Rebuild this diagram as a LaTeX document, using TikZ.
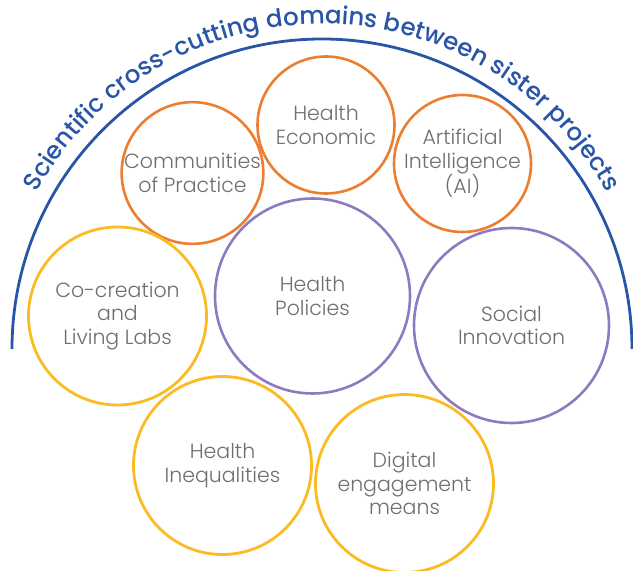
\documentclass[tikz,border=0pt]{standalone}
\usepackage{fontspec}
\setmainfont{Poppins Light}
\newfontfamily\titlefont{Poppins Medium}
\usetikzlibrary{decorations.text}
\definecolor{corange}{HTML}{ED7D31}
\definecolor{cpurple}{HTML}{8C7BC0}
\definecolor{cyellow}{HTML}{FBBC23}
\definecolor{cblue}{HTML}{2855A6}
\definecolor{cgray}{HTML}{6E6E6E}
\begin{document}
\begin{tikzpicture}[x=1pt,y=1pt,
  dom/.style={circle, draw, inner sep=0pt, align=center, text=cgray,
    font=\fontsize{20.5}{23.5}\selectfont},
  orng/.style={dom, draw=corange, line width=2.6pt, minimum size=137pt},
  purp/.style={dom, draw=cpurple, line width=2.6pt, minimum size=195pt},
  yell/.style={dom, draw=cyellow, line width=2.8pt, minimum size=178pt},
  frame/.style={draw=cblue, line width=2.8pt}]
\useasboundingbox (0,0) rectangle (633,571);
% outer arc
\draw[frame] (12,222) arc[start angle=180, end angle=0, radius=310];
\path[decorate, decoration={text along path, text align=center,
  text={|\titlefont\fontsize{24.5}{24.5}\selectfont\color{cblue}|Scientific cross-cutting domains between sister projects}}]
  (-3,222) arc[start angle=180, end angle=0, radius=325];
% domains
\node[orng] (econ) at (326,446) {Health\\Economic};
\node[orng] (cop) at (192.5,398) {Communities\\of Practice};
\node[orng] (ai) at (462.5,407.5) {Artificial\\Intelligence\\(AI)};
\node[yell] (cocr) at (117.5,255) {Co-creation\\and\\Living Labs};
\node[purp] (pol) at (312.5,275) {Health\\Policies};
\node[purp] (soc) at (511.5,245.5) {Social\\Innovation};
\node[yell] (ineq) at (222.5,105.5) {Health\\Inequalities};
\node[yell] (dig) at (404.5,87.5) {Digital\\engagement\\means};
\end{tikzpicture}
\end{document}
